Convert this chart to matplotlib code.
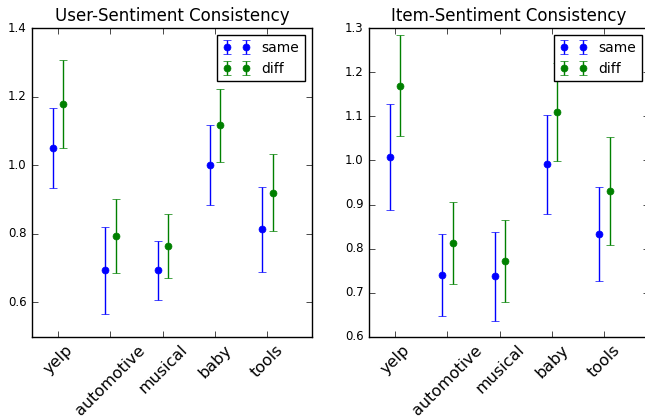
import matplotlib
matplotlib.use('Agg')
import matplotlib.pyplot as plt
import numpy as np

categories = ['yelp', 'automotive', 'musical', 'baby', 'tools']

# user-sentiment consistency
user_same = [1.050, 0.694, 0.694, 1.001, 0.813]
user_same_err = [0.117, 0.127, 0.086, 0.116, 0.124]
user_diff = [1.178, 0.794, 0.764, 1.117, 0.920]
user_diff_err = [0.128, 0.108, 0.093, 0.107, 0.113]

# item-sentiment consistency
item_same = [1.007, 0.740, 0.737, 0.991, 0.833]
item_same_err = [0.120, 0.093, 0.101, 0.113, 0.107]
item_diff = [1.170, 0.813, 0.772, 1.110, 0.931]
item_diff_err = [0.114, 0.093, 0.093, 0.112, 0.123]

plt.style.use('classic')

fig = plt.figure(figsize=(6.45, 4.17), dpi=100)
ax1 = fig.add_axes([0.0496, 0.1926, 0.434, 0.7396])
ax2 = fig.add_axes([0.572, 0.1926, 0.434, 0.7396])

def draw(ax, same, same_err, diff, diff_err, title, ylim, yticks):
    x = np.arange(len(categories))
    ax.errorbar(x - 0.1, same, yerr=same_err, fmt='o', color='b', ecolor='b',
                markersize=5, markeredgecolor='b', capsize=3, label='same')
    ax.errorbar(x + 0.1, diff, yerr=diff_err, fmt='o', color='g', ecolor='g',
                markersize=5, markeredgecolor='g', capsize=3, label='diff')
    ax.set_xlim(-0.5, 4.85)
    ax.set_ylim(*ylim)
    ax.set_yticks(yticks)
    ax.set_xticks(x)
    ax.set_xticklabels(categories, rotation=45, fontsize=11.5)
    ax.tick_params(axis='y', labelsize=8.5)
    ax.set_title(title, fontsize=12)
    ax.legend(loc='upper right', numpoints=2, fontsize=10)

draw(ax1, user_same, user_same_err, user_diff, user_diff_err,
     'User-Sentiment Consistency', (0.5, 1.4), [0.6, 0.8, 1.0, 1.2, 1.4])
draw(ax2, item_same, item_same_err, item_diff, item_diff_err,
     'Item-Sentiment Consistency', (0.6, 1.3), [0.6, 0.7, 0.8, 0.9, 1.0, 1.1, 1.2, 1.3])

fig.savefig('out.png', dpi=100)
